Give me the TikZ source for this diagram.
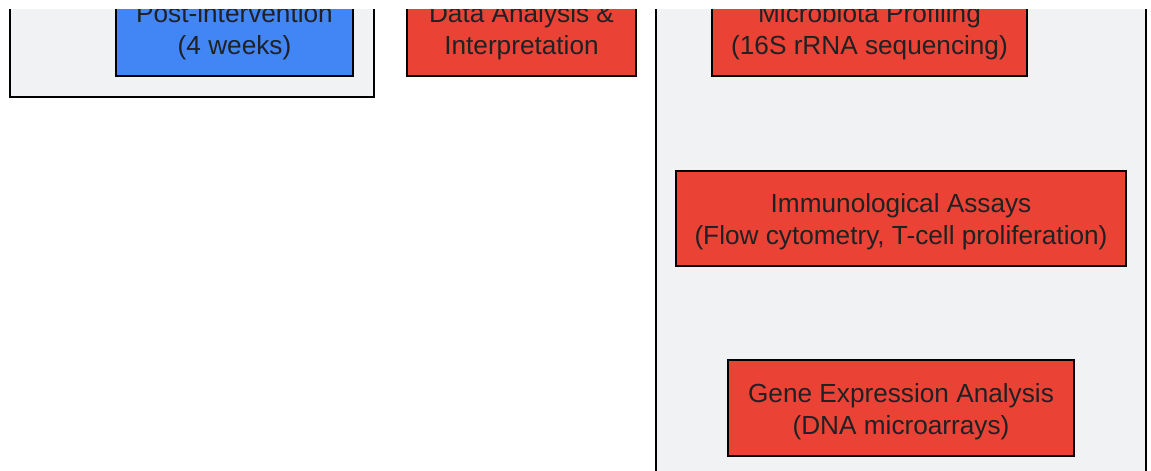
\documentclass[tikz,border=0pt]{standalone}
\usepackage{fontspec}
\setmainfont{Liberation Sans}
\definecolor{clusterfill}{HTML}{F1F2F4}
\definecolor{gblue}{HTML}{4285F4}
\definecolor{gred}{HTML}{EA4335}
\definecolor{txt}{HTML}{202124}
\tikzset{
  cluster/.style={draw=black, line width=2pt, fill=clusterfill},
  procbox/.style={draw=black, line width=2pt, inner sep=0pt, align=center, text=txt,
    font=\fontsize{26.2}{32}\selectfont, text height=57pt, text depth=4pt},
  bluebox/.style={procbox, fill=gblue},
  redbox/.style={procbox, fill=gred},
}
\begin{document}
\begin{tikzpicture}[x=1pt, y=1pt]
\useasboundingbox (0,0) rectangle (1151,471);
\fill[white] (0,0) rectangle (1151,471);
\begin{scope}
\clip (0,0) rectangle (1151,461);
% clusters
\draw[cluster] (10,374) rectangle (374,520);
\draw[cluster] (656,-30) rectangle (1146,520);
% nodes
\node[bluebox, minimum width=237pt, minimum height=95pt] (post) at (234.5,442.5)
  {Post-intervention\\(4 weeks)};
\node[redbox, minimum width=229pt, minimum height=95pt] (data) at (521.5,442.5)
  {Data Analysis \&\\Interpretation};
\node[redbox, minimum width=315pt, minimum height=95pt] (micro) at (869.5,442.5)
  {Microbiota Profiling\\(16S rRNA sequencing)};
\node[redbox, minimum width=450pt, minimum height=95pt] (immuno) at (901,252.5)
  {Immunological Assays\\(Flow cytometry, T-cell proliferation)};
\node[redbox, minimum width=346pt, minimum height=96pt] (gene) at (901,63)
  {Gene Expression Analysis\\(DNA microarrays)};
\end{scope}
\end{tikzpicture}
\end{document}
